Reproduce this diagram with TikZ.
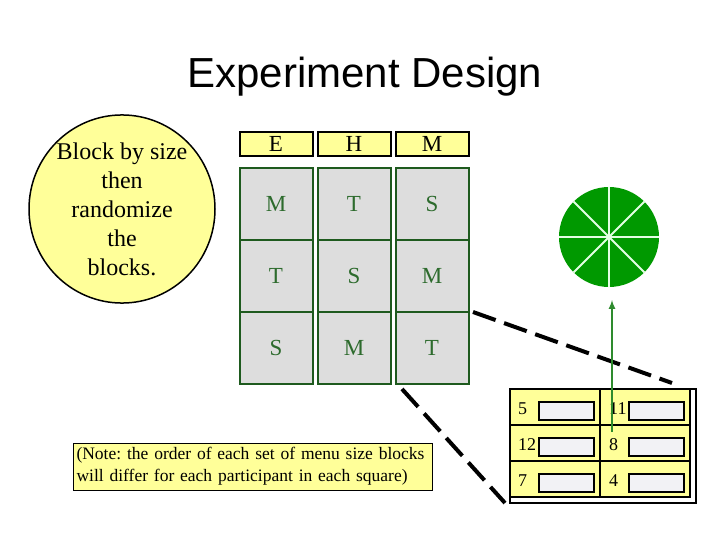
\documentclass[tikz,border=0pt]{standalone}
\usepackage{fontspec}
\setmainfont{Liberation Serif}
\newfontfamily\headfont{Liberation Sans}
\usetikzlibrary{shapes.geometric}
\frenchspacing

\definecolor{paleyellow}{HTML}{FFFF99}
\definecolor{cellgray}{HTML}{DDDDDD}
\definecolor{darkgreen}{HTML}{1E5A1E}
\definecolor{lettergreen}{HTML}{2D6B2D}
\definecolor{leafgreen}{HTML}{009900}
\definecolor{spokegreen}{HTML}{E2FFE2}
\definecolor{arrowgreen}{HTML}{2E8B2E}
\definecolor{slotgray}{HTML}{F2F2F5}

\begin{document}
\begin{tikzpicture}[>=latex,x=1pt,y=-1pt]
    \tikzstyle{blob}=[ellipse,draw=black,fill=paleyellow,line width=1.5pt,minimum width=186pt,minimum height=182pt,inner sep=0pt,align=center,font=\fontsize{24}{29}\selectfont]
    \tikzstyle{head}=[rectangle,draw=black,fill=paleyellow,line width=2pt,minimum width=73pt,minimum height=24pt,inner sep=0pt,font=\fontsize{23}{26}\selectfont]
    \tikzstyle{cell}=[rectangle,draw=darkgreen,fill=cellgray,line width=2pt,minimum width=73pt,minimum height=72pt,inner sep=0pt,text=lettergreen,font=\fontsize{23}{26}\selectfont]
    \tikzstyle{tab}=[rectangle,draw=black,fill=paleyellow,line width=1.5pt,minimum width=90pt,minimum height=36pt,inner sep=0pt]
    \tikzstyle{slot}=[rectangle,draw=black,fill=slotgray,line width=1.5pt,minimum width=55pt,minimum height=18pt,inner sep=0pt]
    \tikzstyle{num}=[anchor=base west,inner sep=0pt,font=\fontsize{18}{22}\selectfont]
    \tikzstyle{zoomline}=[draw=black,line width=4pt,dash pattern=on 24pt off 9pt]
    \tikzstyle{spokeline}=[draw=spokegreen,line width=2pt]
    \tikzstyle{pointer}=[->,draw=arrowgreen,line width=2pt]

    \useasboundingbox[fill=white] (0,0) rectangle (720,540);

    \node[anchor=base,font=\headfont\fontsize{42}{48}\selectfont] (heading) at (365,88) {Experiment Design};

    \node[blob] (advice) at (122,209) {Block by size\\then\\randomize\\the\\blocks.};

    % food types
    \node[head] (hE) at (276,144) {E};
    \node[head] (hH) at (354,144) {H};
    \node[head] (hM) at (432,144) {M};

    % latin square of menu sizes
    \foreach \r/\y/\a/\b/\c in {1/204/M/T/S, 2/276/T/S/M, 3/348/S/M/T} {
        \node[cell] (c\r1) at (276,\y) {\a};
        \node[cell] (c\r2) at (354,\y) {\b};
        \node[cell] (c\r3) at (432,\y) {\c};
    }

    % one participant
    \node[draw=black,line width=2pt,minimum width=186pt,minimum height=114pt,inner sep=0pt] (frame) at (603,446) {};
    \foreach \r/\y/\a/\b in {1/407/5/11, 2/443/12/8, 3/479/7/4} {
        \node[tab] (t\r1) at (555,\y) {};
        \node[tab] (t\r2) at (645,\y) {};
        \node[num] (n\r1) at (518,\y+7) {\a};
        \node[num] (n\r2) at (609,\y+7) {\b};
        \node[slot] (s\r1) at (566.5,\y+4) {};
        \node[slot] (s\r2) at (656.5,\y+4) {};
    }

    \node[draw=black,fill=paleyellow,line width=1pt,text width=352pt,inner xsep=3.5pt,inner ysep=2pt,minimum height=47pt,align=left,font=\fontsize{17.5}{22}\selectfont] (note) at (252.5,466.5) {(Note: the order of each set of menu size blocks\\will differ for each participant in each square)};

    \node[circle,fill=leafgreen,minimum size=100pt,inner sep=0pt] (wheel) at (609,237) {};
    \foreach \a/\b in {0/180,45/225,90/270,135/315}
        \draw[spokeline] (wheel.\a) -- (wheel.\b);

    \coordinate (z1) at (473,312);
    \coordinate (z2) at (672,383);
    \coordinate (z3) at (402,389);
    \coordinate (z4) at (505,503);
    \draw[zoomline] (z1) -- (z2);
    \draw[zoomline] (z3) -- (z4);

    \coordinate (foot) at (612,432);
    \coordinate (tip) at (612,300);
    \draw[pointer] (foot) -- (tip);
\end{tikzpicture}
\end{document}
